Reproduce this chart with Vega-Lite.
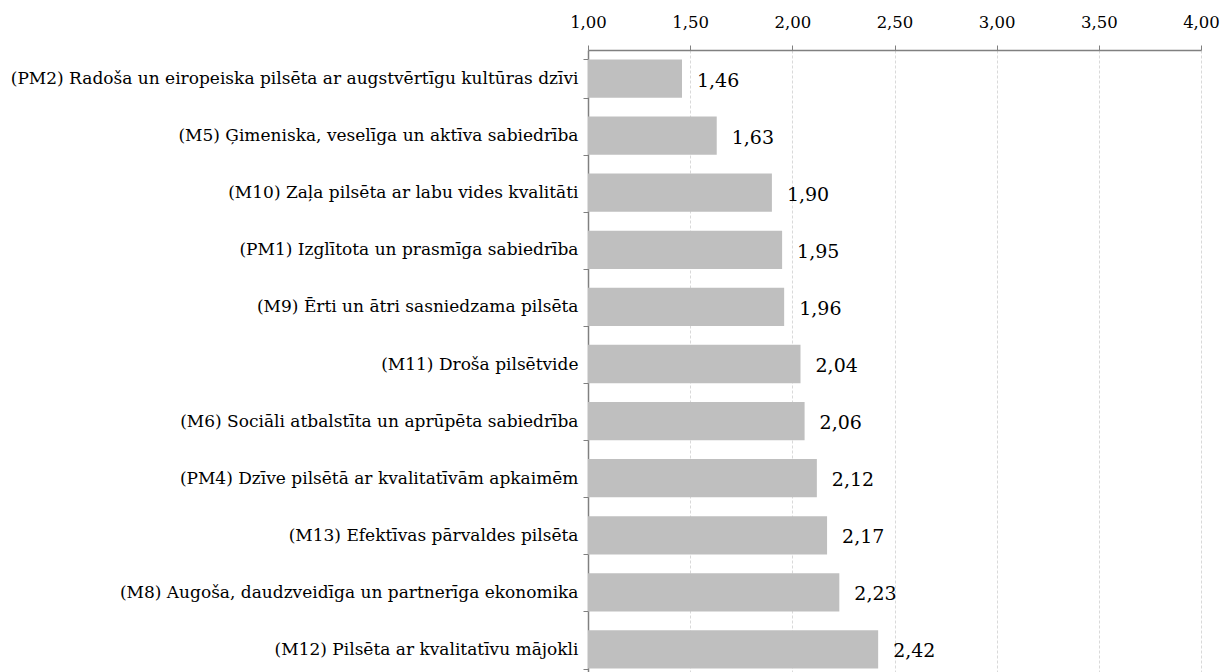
{
  "$schema": "https://vega.github.io/schema/vega-lite/v6.json",
  "autosize": "none",
  "padding": {"left": 588, "top": 50, "right": 21, "bottom": 0},
  "width": 613,
  "height": 628,
  "background": "white",
  "config": {
    "locale": {"number": {"decimal": ",", "thousands": " ", "grouping": [3], "currency": ["", " €"]}},
    "font": "DejaVu Serif",
    "view": {"stroke": null}
  },
  "data": {
    "values": [
      {"merkis": "(PM2) Radoša un eiropeiska pilsēta ar augstvērtīgu kultūras dzīvi", "vertejums": 1.46},
      {"merkis": "(M5) Ģimeniska, veselīga un aktīva sabiedrība", "vertejums": 1.63},
      {"merkis": "(M10) Zaļa pilsēta ar labu vides kvalitāti", "vertejums": 1.90},
      {"merkis": "(PM1) Izglītota un prasmīga sabiedrība", "vertejums": 1.95},
      {"merkis": "(M9) Ērti un ātri sasniedzama pilsēta", "vertejums": 1.96},
      {"merkis": "(M11) Droša pilsētvide", "vertejums": 2.04},
      {"merkis": "(M6) Sociāli atbalstīta un aprūpēta sabiedrība", "vertejums": 2.06},
      {"merkis": "(PM4) Dzīve pilsētā ar kvalitatīvām apkaimēm", "vertejums": 2.12},
      {"merkis": "(M13) Efektīvas pārvaldes pilsēta", "vertejums": 2.17},
      {"merkis": "(M8) Augoša, daudzveidīga un partnerīga ekonomika", "vertejums": 2.23},
      {"merkis": "(M12) Pilsēta ar kvalitatīvu mājokli", "vertejums": 2.42}
    ]
  },
  "encoding": {
    "y": {
      "field": "merkis",
      "type": "nominal",
      "sort": null,
      "scale": {"paddingInner": 0.33, "paddingOuter": 0.165},
      "axis": {
        "title": null,
        "tickBand": "extent",
        "tickSize": 5,
        "tickColor": "#808080",
        "domainColor": "#808080",
        "domainWidth": 1.5,
        "labelFont": "DejaVu Serif",
        "labelFontSize": 17,
        "labelColor": "#000000",
        "labelPadding": 5,
        "labelLimit": 0,
        "grid": false
      }
    }
  },
  "layer": [
    {
      "mark": {"type": "bar", "color": "#bfbfbf"},
      "encoding": {
        "x": {
          "field": "vertejums",
          "type": "quantitative",
          "scale": {"domain": [1, 4], "zero": false, "nice": false},
          "axis": {
            "orient": "top",
            "title": null,
            "values": [1, 1.5, 2, 2.5, 3, 3.5, 4],
            "format": ".2f",
            "grid": true,
            "gridColor": "#d9d9d9",
            "gridDash": [3, 2],
            "gridWidth": 1,
            "tickSize": 5,
            "tickColor": "#808080",
            "domainColor": "#808080",
            "domainWidth": 1.5,
            "labelFont": "DejaVu Serif",
            "labelFontSize": 16.5,
            "labelColor": "#000000",
            "labelPadding": 15,
            "labelFlush": false
          }
        },
        "x2": {"datum": 1}
      }
    },
    {
      "mark": {"type": "text", "align": "left", "baseline": "middle", "dx": 15, "dy": 2, "fontSize": 19, "font": "DejaVu Serif", "color": "#000000"},
      "encoding": {
        "x": {"field": "vertejums", "type": "quantitative"},
        "text": {"field": "vertejums", "type": "quantitative", "format": ".2f"}
      }
    }
  ]
}
